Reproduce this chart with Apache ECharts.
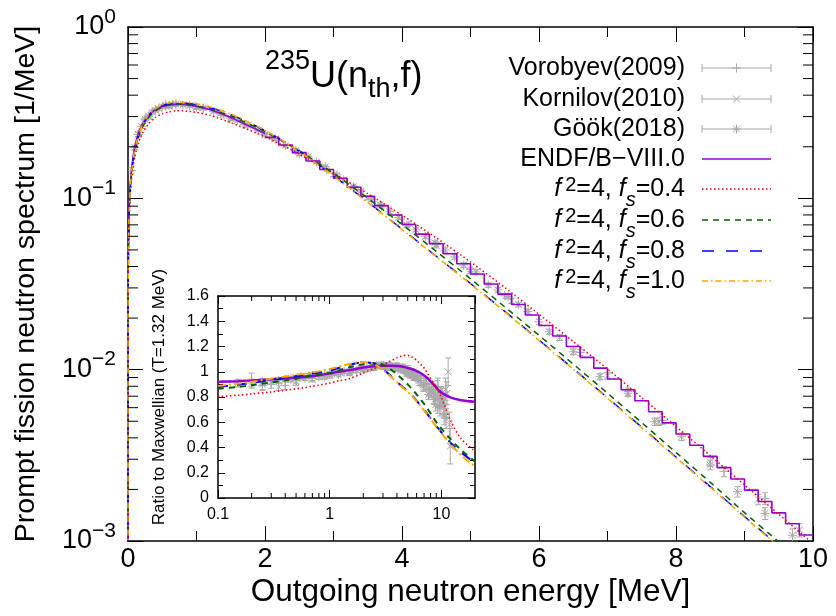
<!DOCTYPE html>
<html>
<head>
<meta charset="utf-8">
<script src="https://cdn.jsdelivr.net/npm/echarts@6/dist/echarts.min.js"></script>
<style>
html,body{margin:0;padding:0;background:#fff;}
#chart{width:836px;height:616px;}
</style>
</head>
<body>
<div id="chart"></div>
<script>
// ---------------- data ----------------
// main panel: energies [MeV] and spectra [1/MeV]
const mainEnergy = [0.000001, 0.00001, 0.0001, 0.001, 0.005, 0.01, 0.02, 0.04, 0.07, 0.1, 0.15, 0.2, 0.3, 0.4, 0.5, 0.6, 0.7, 0.8, 1.0, 1.2, 1.5, 2.0, 2.5, 3.0, 3.5, 4.0, 4.5, 5.0, 5.5, 6.0, 6.5, 7.0, 7.5, 8.0, 8.5, 9.0, 9.5, 10.0];
const fs04Spectrum = [0.000565, 0.00179, 0.00565, 0.0179, 0.04009, 0.05700, 0.08084, 0.11404, 0.14878, 0.17514, 0.20936, 0.23591, 0.27272, 0.29645, 0.31158, 0.32008, 0.32417, 0.32417, 0.31739, 0.30473, 0.27639, 0.22893, 0.18145, 0.14006, 0.10653, 0.07978, 0.05882, 0.04257, 0.03016, 0.02108, 0.014607, 0.010085, 0.006869, 0.004662, 0.003152, 0.002123, 0.001433, 0.000965];
const fs06Spectrum = [0.000614, 0.00194, 0.00614, 0.0194, 0.04350, 0.06188, 0.08758, 0.12343, 0.16073, 0.18888, 0.22634, 0.25535, 0.29707, 0.32391, 0.34040, 0.35190, 0.35603, 0.35575, 0.34529, 0.33165, 0.30272, 0.24511, 0.18906, 0.14006, 0.10014, 0.07043, 0.04906, 0.03390, 0.02326, 0.01586, 0.010776, 0.007294, 0.004905, 0.003288, 0.002200, 0.001464, 0.000987, 0.000663];
const fs08Spectrum = [0.000621, 0.00196, 0.00621, 0.0196, 0.04402, 0.06276, 0.08892, 0.12530, 0.16335, 0.19194, 0.23071, 0.26079, 0.30357, 0.33086, 0.34760, 0.35666, 0.36080, 0.36047, 0.35227, 0.33822, 0.30857, 0.24858, 0.18853, 0.13542, 0.09523, 0.06612, 0.04593, 0.03183, 0.02191, 0.01489, 0.010128, 0.006854, 0.004614, 0.003091, 0.002078, 0.001391, 0.000935, 0.000627];
const fs10Spectrum = [0.000625, 0.00198, 0.00625, 0.0197, 0.04429, 0.06313, 0.08944, 0.12603, 0.16447, 0.19346, 0.23277, 0.26307, 0.30681, 0.33433, 0.35120, 0.36031, 0.36446, 0.36410, 0.35645, 0.34150, 0.31061, 0.24928, 0.18764, 0.13475, 0.09474, 0.06576, 0.04567, 0.03164, 0.02178, 0.01480, 0.010059, 0.006805, 0.004579, 0.003067, 0.002061, 0.001379, 0.000927, 0.000621];
// ENDF/B-VIII.0: smooth below 2 MeV, histogram above
const endfLowEnergy = [0.000001, 0.00001, 0.0001, 0.001, 0.005, 0.01, 0.02, 0.04, 0.07, 0.1, 0.15, 0.2, 0.3, 0.4, 0.5, 0.6, 0.7, 0.8, 1.0, 1.2, 1.5, 2.0];
const endfLowSpectrum = [0.000658, 0.00208, 0.00658, 0.0208, 0.04664, 0.06609, 0.09328, 0.13108, 0.17081, 0.20088, 0.23791, 0.26593, 0.30519, 0.32947, 0.34364, 0.35044, 0.35347, 0.35285, 0.34425, 0.32837, 0.29628, 0.23887];
const endfBinEdges = [2.0, 2.2, 2.4, 2.6, 2.8, 3.0, 3.2, 3.4, 3.6, 3.8, 4.0, 4.2, 4.4, 4.6, 4.8, 5.0, 5.2, 5.4, 5.6, 5.8, 6.0, 6.2, 6.4, 6.6, 6.8, 7.0, 7.2, 7.4, 7.6, 7.8, 8.0, 8.2, 8.4, 8.6, 8.8, 9.0, 9.2, 9.4, 9.6, 9.8, 10.0];
const endfBinValues = [0.227, 0.2047, 0.1848, 0.165, 0.1473, 0.131, 0.1161, 0.1028, 0.0907, 0.0799, 0.0704, 0.0618, 0.0543, 0.0475, 0.0415, 0.0362, 0.0316, 0.0276, 0.0240, 0.02085, 0.01811, 0.01572, 0.01364, 0.0118, 0.01021, 0.00883, 0.00763, 0.00659, 0.00568, 0.00489, 0.00421, 0.00362, 0.00312, 0.00268, 0.0023, 0.00198, 0.0017, 0.00146, 0.00126, 0.001085];

// inset: ratio to Maxwellian (T=1.32 MeV)
const ratioEnergy = [0.1, 0.15, 0.2, 0.3, 0.4, 0.5, 0.6, 0.7, 0.8, 1.0, 1.2, 1.5, 2.0, 2.5, 3.0, 3.5, 4.0, 4.5, 5.0, 5.5, 6.0, 6.5, 7.0, 7.5, 8.0, 8.5, 9.0, 9.5, 10, 12, 15, 20];
const endfRatio = [0.921, 0.925, 0.930, 0.940, 0.948, 0.954, 0.958, 0.965, 0.972, 0.987, 1.000, 1.013, 1.033, 1.044, 1.048, 1.047, 1.045, 1.040, 1.030, 1.020, 1.005, 0.990, 0.970, 0.950, 0.925, 0.900, 0.875, 0.852, 0.835, 0.797, 0.775, 0.763];
const fs04Ratio = [0.803, 0.814, 0.825, 0.840, 0.853, 0.865, 0.875, 0.885, 0.893, 0.910, 0.928, 0.945, 0.990, 1.025, 1.055, 1.085, 1.110, 1.127, 1.130, 1.115, 1.090, 1.060, 1.030, 0.990, 0.950, 0.910, 0.870, 0.835, 0.800, 0.620, 0.470, 0.370];
const fs06Ratio = [0.866, 0.880, 0.893, 0.915, 0.932, 0.945, 0.962, 0.972, 0.980, 0.990, 1.010, 1.035, 1.060, 1.068, 1.055, 1.020, 0.980, 0.940, 0.900, 0.860, 0.820, 0.782, 0.745, 0.707, 0.670, 0.635, 0.600, 0.575, 0.550, 0.470, 0.380, 0.290];
const fs08Ratio = [0.880, 0.897, 0.912, 0.935, 0.952, 0.965, 0.975, 0.985, 0.993, 1.010, 1.030, 1.055, 1.075, 1.065, 1.020, 0.970, 0.920, 0.880, 0.845, 0.810, 0.770, 0.735, 0.700, 0.665, 0.630, 0.600, 0.570, 0.545, 0.520, 0.440, 0.360, 0.280];
const fs10Ratio = [0.887, 0.905, 0.920, 0.945, 0.962, 0.975, 0.985, 0.995, 1.003, 1.022, 1.040, 1.062, 1.078, 1.060, 1.015, 0.965, 0.915, 0.875, 0.840, 0.805, 0.765, 0.730, 0.695, 0.660, 0.625, 0.595, 0.565, 0.540, 0.515, 0.430, 0.340, 0.250];

// experiments, main panel: [E, spectrum, error %]
const vorobyevMain = [[0.05,0.145,4],[0.15,0.236,3],[0.25,0.287,2.5],[0.4,0.329,2],[0.55,0.346,2],[0.7,0.352,2],[0.9,0.348,2],[1.1,0.335,2],[1.4,0.305,2],[1.7,0.270,2],[2.1,0.227,2],[2.5,0.183,2],[2.9,0.147,2],[3.3,0.1155,2],[3.7,0.0900,2.5],[4.1,0.0700,2.5],[4.5,0.0540,3],[5.0,0.0385,3],[5.5,0.0270,3],[6.0,0.0190,3.5],[6.6,0.0126,4],[7.3,0.00745,5],[7.8,0.00505,5],[8.7,0.00255,7],[9.3,0.00177,8]];
const kornilovMain = [[0.3,0.300,3],[0.6,0.345,2.5],[1.0,0.338,2],[1.5,0.290,2],[2.0,0.234,2],[2.5,0.181,2],[3.0,0.137,2],[3.5,0.1005,2.5],[4.0,0.0735,2.5],[4.5,0.0530,3],[5.0,0.0375,3],[5.6,0.0252,3.5],[6.3,0.0154,4],[7.0,0.0092,4.5],[7.75,0.00497,5],[8.5,0.00290,6],[9.2,0.00175,7],[9.8,0.00116,9]];
const gookMain = [[0.1,0.198,3],[0.15,0.236,3],[0.2,0.262,2.5],[0.25,0.290,2.5],[0.3,0.302,2],[0.35,0.318,2],[0.4,0.327,2],[0.45,0.334,2],[0.5,0.343,2],[0.55,0.350,2],[0.6,0.348,2],[0.65,0.353,2],[0.7,0.356,2],[0.8,0.350,2],[0.9,0.347,2],[1.0,0.341,2],[1.1,0.337,2],[1.25,0.322,2],[1.35,0.313,2],[1.5,0.293,2],[1.6,0.285,2],[1.75,0.266,2],[1.9,0.250,2],[2.0,0.236,2],[2.15,0.222,2],[2.3,0.203,2],[2.45,0.190,2],[2.63,0.175,2],[2.75,0.163,2],[2.88,0.153,2],[3.05,0.137,2],[3.15,0.128,2],[3.29,0.117,2],[3.4,0.110,2],[3.55,0.0985,2.5],[3.68,0.0918,2.5],[3.82,0.0835,2.5],[3.95,0.0775,2.5],[4.07,0.0699,2.5],[4.2,0.0655,2.5],[4.34,0.0597,2.5],[4.48,0.0551,2.5],[4.63,0.0499,3],[4.77,0.0455,3],[4.9,0.0408,3],[5.08,0.0372,3],[5.26,0.0312,3],[5.4,0.0292,3],[5.55,0.0267,3],[5.7,0.0240,3],[5.84,0.0218,3.5],[6.15,0.01664,3.5],[6.5,0.01273,4],[6.89,0.0091,4],[7.3,0.00728,4.5],[7.69,0.00497,5],[8.08,0.00406,5],[8.5,0.00277,6],[8.9,0.00194,7],[9.3,0.00145,8],[9.7,0.00108,9]];
// experiments, inset: [E, ratio, error]
const vorobyevRatio = [[0.2,0.93,0.06],[0.25,0.89,0.04],[0.3,0.90,0.03],[0.4,0.89,0.03],[0.5,0.93,0.02],[0.7,0.95,0.02],[0.9,0.96,0.02],[1.2,0.98,0.02],[1.5,1.0,0.02],[2.0,1.02,0.02],[2.5,1.04,0.02],[3.0,1.05,0.02],[3.5,1.04,0.02],[4.0,1.04,0.025],[4.5,1.03,0.03],[5.0,1.02,0.03],[5.5,0.99,0.03],[6.0,0.97,0.035],[6.6,0.93,0.04],[7.3,0.90,0.045],[7.8,0.86,0.05],[8.2,0.87,0.05],[8.7,0.80,0.06],[8.9,0.83,0.06],[9.3,0.88,0.07],[9.6,0.78,0.07],[10.0,0.80,0.08],[10.4,0.75,0.08]];
const kornilovRatio = [[0.25,0.90,0.04],[0.35,0.88,0.03],[0.5,0.92,0.03],[0.7,0.94,0.02],[1.0,0.97,0.02],[1.5,0.99,0.02],[2.0,1.02,0.02],[2.5,1.03,0.02],[3.0,1.04,0.02],[3.5,1.03,0.02],[4.0,1.04,0.03],[4.5,1.02,0.03],[5.0,1.00,0.03],[5.6,0.97,0.04],[6.3,0.93,0.04],[7.0,0.90,0.05],[7.75,0.86,0.05],[8.5,0.84,0.06],[9.2,0.86,0.07],[9.8,0.80,0.08],[10.7,0.72,0.08],[10.9,0.86,0.09],[11.2,0.83,0.09],[11.5,1.00,0.11],[11.8,0.58,0.10],[12.0,0.41,0.14]];
const gookRatio = [[0.15,0.91,0.03],[0.2,0.91,0.03],[0.25,0.92,0.025],[0.3,0.92,0.02],[0.35,0.93,0.02],[0.4,0.94,0.02],[0.45,0.94,0.02],[0.5,0.95,0.02],[0.55,0.96,0.02],[0.6,0.95,0.02],[0.65,0.965,0.02],[0.7,0.97,0.02],[0.8,0.96,0.02],[0.9,0.97,0.02],[1.0,0.98,0.02],[1.1,0.99,0.02],[1.25,0.99,0.015],[1.35,1.0,0.015],[1.5,1.0,0.015],[1.6,1.01,0.015],[1.75,1.01,0.015],[1.9,1.03,0.015],[2.0,1.02,0.015],[2.15,1.03,0.015],[2.3,1.03,0.015],[2.45,1.04,0.015],[2.63,1.05,0.02],[2.75,1.05,0.02],[2.88,1.05,0.02],[3.05,1.05,0.02],[3.15,1.04,0.02],[3.29,1.04,0.02],[3.4,1.05,0.02],[3.55,1.04,0.02],[3.68,1.04,0.02],[3.82,1.03,0.02],[3.95,1.04,0.02],[4.07,1.02,0.02],[4.2,1.03,0.02],[4.34,1.03,0.02],[4.48,1.03,0.02],[4.63,1.01,0.025],[4.77,1.01,0.025],[4.9,0.99,0.03],[5.08,1.0,0.03],[5.26,0.98,0.03],[5.4,0.98,0.03],[5.55,0.98,0.03],[5.7,0.97,0.03],[5.84,0.96,0.03],[6.15,0.95,0.03],[6.5,0.93,0.035],[6.89,0.88,0.035],[7.3,0.90,0.04],[7.69,0.82,0.04],[8.08,0.84,0.045],[8.5,0.80,0.05],[8.9,0.74,0.05],[9.3,0.73,0.06],[9.7,0.72,0.07],[10.2,0.80,0.07],[10.6,0.66,0.08],[11.0,0.63,0.08]];

// axis tick values
const mainMinorTicks = [0.002,0.003,0.004,0.005,0.006,0.007,0.008,0.009,0.02,0.03,0.04,0.05,0.06,0.07,0.08,0.09,0.2,0.3,0.4,0.5,0.6,0.7,0.8,0.9];
const insetMinorTicks = [0.2,0.3,0.4,0.5,0.6,0.7,0.8,0.9,2,3,4,5,6,7,8,9];
const insetXLabels = [0.1, 1, 10];

// texts
const expLabels = ['Vorobyev(2009)', 'Kornilov(2010)', 'G\u00f6\u00f6k(2018)'];
const endfLabel = 'ENDF/B\u2212VIII.0';
const f2Value = '4';
const fsValues = ['0.4', '0.6', '0.8', '1.0'];

// ---------------- styling ----------------
const FF = "'Liberation Sans', Arial, Helvetica, sans-serif";
const GRAY = '#a9a9a9';
const C_ENDF = '#9400d3', C_RED = '#ff0000', C_GREEN = '#006400', C_BLUE = '#0000ff', C_ORANGE = '#ffa500';

const pairs = (xs, ys) => xs.map((x, i) => [x, ys[i]]);
const mainErr = rows => rows.map(r => [r[0], r[1], r[1] * (1 - r[2] / 100), r[1] * (1 + r[2] / 100)]);
const insetErr = rows => rows.map(r => [r[0], r[1], r[1] - r[2], r[1] + r[2]]);
const endfHist = endfBinEdges.map((e, i) => [e, endfBinValues[Math.min(i, endfBinValues.length - 1)]]);

function markerShapes(kind, cx, cy, r, color) {
  const st = {stroke: color, lineWidth: 1};
  const L = (x1, y1, x2, y2) => ({type: 'line', shape: {x1, y1, x2, y2}, style: st});
  const out = [];
  if (kind === 'plus' || kind === 'star') { out.push(L(cx - r, cy, cx + r, cy), L(cx, cy - r, cx, cy + r)); }
  if (kind === 'cross' || kind === 'star') { const d = r * 0.75; out.push(L(cx - d, cy - d, cx + d, cy + d), L(cx - d, cy + d, cx + d, cy - d)); }
  return out;
}

function errSeries(name, data, kind, xi, yi, cap, r) {
  return {
    type: 'custom', name, xAxisIndex: xi, yAxisIndex: yi, data, clip: true, silent: true, z: 2,
    encode: {x: 0, y: 1},
    renderItem: (params, api) => {
      const x = api.value(0);
      const p = api.coord([x, api.value(1)]);
      const lo = api.coord([x, api.value(2)]);
      const hi = api.coord([x, api.value(3)]);
      const st = {stroke: GRAY, lineWidth: 1};
      const ch = [
        {type: 'line', shape: {x1: p[0], y1: lo[1], x2: p[0], y2: hi[1]}, style: st},
        {type: 'line', shape: {x1: p[0] - cap, y1: lo[1], x2: p[0] + cap, y2: lo[1]}, style: st},
        {type: 'line', shape: {x1: p[0] - cap, y1: hi[1], x2: p[0] + cap, y2: hi[1]}, style: st}
      ].concat(markerShapes(kind, p[0], p[1], r, GRAY));
      return {type: 'group', children: ch};
    }
  };
}

function lineSeries(name, data, color, width, dash, xi, yi, extra) {
  return Object.assign({
    type: 'line', name, data, xAxisIndex: xi, yAxisIndex: yi, showSymbol: false, symbol: 'none',
    smooth: 0.2, silent: true, z: 3, clip: true,
    lineStyle: {color, width, type: dash}
  }, extra || {});
}

const blackLine = {show: true, onZero: false, lineStyle: {color: '#000', width: 1.5}};
const tickStyle = {color: '#000', width: 1};

const supRich = {
  b: {fontSize: 27, lineHeight: 41, fontFamily: FF, color: '#000'},
  s: {fontSize: 21, height: 21, verticalAlign: 'top', fontFamily: FF, color: '#000'}
};

const option = {
  animation: false,
  backgroundColor: '#fff',
  textStyle: {fontFamily: FF},
  grid: [
    {left: 128, top: 27, width: 685, height: 514, outerBoundsMode: 'none', containLabel: false},
    {left: 218, top: 296, width: 257, height: 202, show: true, backgroundColor: '#fff', borderWidth: 0, outerBoundsMode: 'none', containLabel: false}
  ],
  xAxis: [
    {type: 'value', gridIndex: 0, position: 'bottom', min: 0, max: 10, interval: 2,
     axisLine: blackLine, splitLine: {show: false},
     axisTick: {show: true, inside: true, length: 15, lineStyle: tickStyle},
     minorTick: {show: true, splitNumber: 2, length: 10, lineStyle: tickStyle},
     axisLabel: {show: true, fontSize: 27, color: '#000', margin: 5, fontFamily: FF},
     name: 'Outgoing neutron energy [MeV]', nameLocation: 'middle', nameGap: 35, nameMoveOverlap: false,
     nameTextStyle: {fontSize: 31.5, color: '#000', fontFamily: FF}},
    {type: 'value', gridIndex: 0, position: 'top', min: 0, max: 10, interval: 2,
     axisLine: blackLine, splitLine: {show: false},
     axisTick: {show: true, inside: true, length: 15, lineStyle: tickStyle},
     minorTick: {show: true, splitNumber: 2, length: 10, lineStyle: tickStyle},
     axisLabel: {show: false}},
    {type: 'log', logBase: 10, gridIndex: 1, position: 'bottom', min: 0.1, max: 20,
     axisLine: blackLine, splitLine: {show: false},
     axisTick: {show: true, inside: true, length: 8, lineStyle: tickStyle},
     axisLabel: {show: true, fontSize: 16, color: '#000', margin: 9, fontFamily: FF, showMaxLabel: false,
       formatter: v => { const hit = insetXLabels.find(t => Math.abs(t - v) / t < 1e-6); return hit === undefined ? '' : String(hit); }}},
    {type: 'log', logBase: 10, gridIndex: 1, position: 'top', min: 0.1, max: 20,
     axisLine: blackLine, splitLine: {show: false},
     axisTick: {show: true, inside: true, length: 8, lineStyle: tickStyle},
     axisLabel: {show: false}}
  ],
  yAxis: [
    {type: 'log', logBase: 10, gridIndex: 0, position: 'left', min: 0.001, max: 1,
     axisLine: blackLine, splitLine: {show: false},
     axisTick: {show: true, inside: true, length: 15, lineStyle: tickStyle},
     axisLabel: {show: true, margin: 12, fontFamily: FF, color: '#000',
       formatter: v => { const e = Math.round(Math.log10(v)); return '{b|10}{s|' + (e < 0 ? '\u2212' + (-e) : String(e)) + '}'; },
       rich: supRich},
     name: 'Prompt fission neutron spectrum [1/MeV]', nameLocation: 'middle', nameGap: 87, nameMoveOverlap: false,
     nameTextStyle: {fontSize: 28.5, color: '#000', fontFamily: FF}},
    {type: 'log', logBase: 10, gridIndex: 0, position: 'right', min: 0.001, max: 1,
     axisLine: blackLine, splitLine: {show: false},
     axisTick: {show: true, inside: true, length: 15, lineStyle: tickStyle},
     axisLabel: {show: false}},
    {type: 'value', gridIndex: 1, position: 'left', min: 0, max: 1.6, interval: 0.2,
     axisLine: blackLine, splitLine: {show: false},
     axisTick: {show: true, inside: true, length: 7, lineStyle: tickStyle},
     minorTick: {show: true, splitNumber: 2, length: 5, lineStyle: tickStyle},
     axisLabel: {show: true, fontSize: 16, color: '#000', margin: 9, fontFamily: FF},
     name: 'Ratio to Maxwellian (T=1.32 MeV)', nameLocation: 'middle', nameGap: 50, nameMoveOverlap: false,
     nameTextStyle: {fontSize: 17, color: '#000', fontFamily: FF}},
    {type: 'value', gridIndex: 1, position: 'right', min: 0, max: 1.6, interval: 0.2,
     axisLine: blackLine, splitLine: {show: false},
     axisTick: {show: true, inside: true, length: 7, lineStyle: tickStyle},
     minorTick: {show: true, splitNumber: 2, length: 5, lineStyle: tickStyle},
     axisLabel: {show: false}}
  ],
  series: [
    // ---- main panel ----
    errSeries('Vorobyev(2009)', mainErr(vorobyevMain), 'plus', 0, 0, 3, 4.5),
    errSeries('Kornilov(2010)', mainErr(kornilovMain), 'cross', 0, 0, 3, 4.5),
    errSeries('G\u00f6\u00f6k(2018)', mainErr(gookMain), 'star', 0, 0, 3, 4.5),
    lineSeries('ENDF low', pairs(endfLowEnergy, endfLowSpectrum), C_ENDF, 1.6, 'solid', 0, 0),
    lineSeries('ENDF hist', endfHist, C_ENDF, 1.6, 'solid', 0, 0, {smooth: false, step: 'end'}),
    lineSeries('fs0.4', pairs(mainEnergy, fs04Spectrum), C_RED, 1.5, [1.5, 2.5], 0, 0),
    lineSeries('fs0.6', pairs(mainEnergy, fs06Spectrum), C_GREEN, 1.5, [6, 5], 0, 0),
    lineSeries('fs0.8', pairs(mainEnergy, fs08Spectrum), C_BLUE, 1.5, [12, 12], 0, 0),
    lineSeries('fs1.0', pairs(mainEnergy, fs10Spectrum), C_ORANGE, 1.5, [6, 3, 1.5, 3], 0, 0),
    {type: 'custom', name: 'main log minor ticks', xAxisIndex: 0, yAxisIndex: 0, silent: true, clip: false, z: 6,
     data: mainMinorTicks.map(v => [5, v]), encode: {x: 0, y: 1},
     renderItem: (params, api) => {
       const cs = params.coordSys; const y = api.coord([5, api.value(1)])[1];
       return {type: 'group', children: [
         {type: 'line', shape: {x1: cs.x, y1: y, x2: cs.x + 10, y2: y}, style: {stroke: '#000', lineWidth: 1}},
         {type: 'line', shape: {x1: cs.x + cs.width - 10, y1: y, x2: cs.x + cs.width, y2: y}, style: {stroke: '#000', lineWidth: 1}}
       ]};
     }},
    // ---- inset ----
    errSeries('Vorobyev ratio', insetErr(vorobyevRatio), 'plus', 2, 2, 3, 4.5),
    errSeries('Kornilov ratio', insetErr(kornilovRatio), 'cross', 2, 2, 3, 4.5),
    errSeries('Gook ratio', insetErr(gookRatio), 'star', 2, 2, 3, 4.5),
    lineSeries('ENDF ratio', pairs(ratioEnergy, endfRatio), C_ENDF, 2.5, 'solid', 2, 2, {smooth: 0.3}),
    lineSeries('fs0.4 ratio', pairs(ratioEnergy, fs04Ratio), C_RED, 1.6, [1.5, 2.5], 2, 2, {smooth: 0.3}),
    lineSeries('fs0.6 ratio', pairs(ratioEnergy, fs06Ratio), C_GREEN, 2, [6, 5], 2, 2, {smooth: 0.3}),
    lineSeries('fs0.8 ratio', pairs(ratioEnergy, fs08Ratio), C_BLUE, 2, [10, 9], 2, 2, {smooth: 0.3}),
    lineSeries('fs1.0 ratio', pairs(ratioEnergy, fs10Ratio), C_ORANGE, 2, [8, 3, 2, 3], 2, 2, {smooth: 0.3}),
    {type: 'custom', name: 'inset log minor ticks', xAxisIndex: 2, yAxisIndex: 2, silent: true, clip: false, z: 6,
     data: insetMinorTicks.map(v => [v, 0.8]), encode: {x: 0, y: 1},
     renderItem: (params, api) => {
       const cs = params.coordSys; const x = api.coord([api.value(0), 0.8])[0];
       return {type: 'group', children: [
         {type: 'line', shape: {x1: x, y1: cs.y + cs.height, x2: x, y2: cs.y + cs.height - 5}, style: {stroke: '#000', lineWidth: 1}},
         {type: 'line', shape: {x1: x, y1: cs.y, x2: x, y2: cs.y + 5}, style: {stroke: '#000', lineWidth: 1}}
       ]};
     }}
  ]
};

// ---------------- legend + title (graphic) ----------------
const legRich = {
  n: {fontSize: 25, lineHeight: 27, fontFamily: FF, fill: '#000', color: '#000'},
  i: {fontSize: 25, lineHeight: 27, fontStyle: 'italic', fontFamily: FF, fill: '#000', color: '#000'},
  sup: {fontSize: 20, height: 20, verticalAlign: 'top', fontFamily: FF, padding: [0, 0, 0, 4], fill: '#000', color: '#000'},
  sub: {fontSize: 20, height: 4, verticalAlign: 'bottom', fontStyle: 'italic', fontFamily: FF, fill: '#000', color: '#000'}
};
const legendRows = [68, 99, 129, 159, 189, 220, 251, 281];
const legX0 = 702, legX1 = 771, legTextX = 685;
const graphics = [];
const kinds = ['plus', 'cross', 'star'];
expLabels.forEach((lab, i) => {
  const y = legendRows[i];
  graphics.push({type: 'text', x: legTextX, y: y, style: {text: '{n|' + lab + '}', rich: legRich, align: 'right', verticalAlign: 'middle'}});
  const st = {stroke: GRAY, lineWidth: 1};
  graphics.push({type: 'line', shape: {x1: legX0, y1: y, x2: legX1, y2: y}, style: st});
  graphics.push({type: 'line', shape: {x1: legX0, y1: y - 4, x2: legX0, y2: y + 4}, style: st});
  graphics.push({type: 'line', shape: {x1: legX1, y1: y - 4, x2: legX1, y2: y + 4}, style: st});
  markerShapes(kinds[i], (legX0 + legX1) / 2, y, 4.5, GRAY).forEach(m => graphics.push(m));
});
graphics.push({type: 'text', x: legTextX, y: legendRows[3], style: {text: '{n|' + endfLabel + '}', rich: legRich, align: 'right', verticalAlign: 'middle'}});
graphics.push({type: 'line', shape: {x1: legX0, y1: legendRows[3], x2: legX1, y2: legendRows[3]}, style: {stroke: C_ENDF, lineWidth: 1.6}});
const fsStyles = [[C_RED, [1.5, 2.5]], [C_GREEN, [6, 5]], [C_BLUE, [12, 12]], [C_ORANGE, [6, 3, 1.5, 3]]];
fsValues.forEach((v, k) => {
  const y = legendRows[4 + k];
  const txt = '{i|f}{sup|2}{n|=' + f2Value + ', }{i|f}{sub|s}{n|=' + v + '}';
  graphics.push({type: 'text', x: legTextX, y: y, style: {text: txt, rich: legRich, align: 'right', verticalAlign: 'middle'}});
  graphics.push({type: 'line', shape: {x1: legX0, y1: y, x2: legX1, y2: y}, style: {stroke: fsStyles[k][0], lineWidth: 1.5, lineDash: fsStyles[k][1]}});
});
graphics.push({type: 'text', x: 265, y: 77, style: {
  text: '{sup|235}{b|U(n}{sub|th}{b|,f)}', align: 'left', verticalAlign: 'middle',
  rich: {
    b: {fontSize: 36, lineHeight: 57, fontFamily: FF, fill: '#000', color: '#000'},
    sup: {fontSize: 27, height: 27, verticalAlign: 'top', fontFamily: FF, fill: '#000', color: '#000'},
    sub: {fontSize: 27, height: 31, verticalAlign: 'bottom', fontFamily: FF, fill: '#000', color: '#000'}
  }}});
option.graphic = {elements: graphics};

const chart = echarts.init(document.getElementById('chart'), null, {renderer: 'canvas'});
chart.setOption(option);
</script>
</body>
</html>
